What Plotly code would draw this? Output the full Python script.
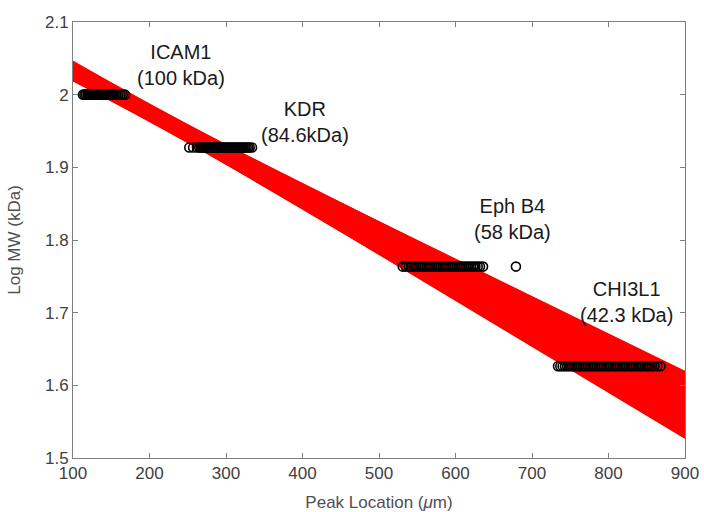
import numpy as np
import plotly.graph_objects as go

# Fitted calibration lines (value of Log MW at x=100 and x=900)
fit_y_at_100 = [2.0444, 2.0410, 2.0364, 2.0311, 2.0260, 2.0219, 2.0194, 2.0189,
                2.0204, 2.0238, 2.0284, 2.0337, 2.0388, 2.0429, 2.0454, 2.0459]
fit_y_at_900 = [1.5852, 1.6015, 1.6134, 1.6192, 1.6180, 1.6100, 1.5964, 1.5793,
                1.5612, 1.5449, 1.5330, 1.5272, 1.5284, 1.5364, 1.5500, 1.5671]
fit_x_ends = [100, 900]

# Peak locations (um) for each marker protein
icam1_x = [113, 115, 117, 119, 120, 121, 122, 123, 124, 125, 126, 127, 128, 129, 130,
           131, 132, 133, 134, 135, 136, 137, 138, 139, 140, 141, 142, 144, 146, 148,
           150, 153, 156, 159, 162, 165, 168]
kdr_x = [252, 257, 262, 265, 267, 269, 271, 273, 275, 277, 279, 281, 283, 285, 287,
         289, 291, 293, 295, 297, 299, 301, 303, 305, 307, 309, 311, 313, 315, 317,
         319, 321, 323, 325, 327, 329, 331, 334]
ephb4_x = [531, 535, 539, 542, 545, 548, 551, 554, 557, 560, 563, 566, 569, 572, 575,
           578, 581, 584, 587, 590, 593, 596, 599, 602, 605, 608, 611, 614, 617, 620,
           623, 626, 629, 632, 636, 679]
chi3l1_x = [734, 737, 740, 743, 746, 749, 752, 755, 758, 761, 764, 767, 770, 773, 776,
            779, 782, 785, 788, 791, 794, 797, 800, 803, 806, 809, 812, 815, 818, 821,
            824, 827, 830, 833, 836, 839, 842, 845, 848, 851, 854, 857, 860, 864, 868]
mw_kda = {"ICAM1": 100, "KDR": 84.6, "Eph B4": 58, "CHI3L1": 42.3}

labels = ["ICAM1<br>(100 kDa)", "KDR<br>(84.6kDa)", "Eph B4<br>(58 kDa)", "CHI3L1<br>(42.3 kDa)"]
label_x = [241, 403, 674, 823]
label_y = [2.041, 1.962, 1.829, 1.715]

FONT = "Liberation Sans, Arial"
fig = go.Figure()

# Band envelope from the fitted lines
xs = np.linspace(fit_x_ends[0], fit_x_ends[1], 81)
ys = np.array([a + (b - a) * (xs - fit_x_ends[0]) / (fit_x_ends[1] - fit_x_ends[0])
               for a, b in zip(fit_y_at_100, fit_y_at_900)])
upper = ys.max(axis=0)
lower = ys.min(axis=0)
fig.add_trace(go.Scatter(x=np.concatenate([xs, xs[::-1]]),
                         y=np.concatenate([upper, lower[::-1]]),
                         fill="toself", fillcolor="#ff0000", line=dict(width=0),
                         mode="lines", hoverinfo="skip", showlegend=False))
for i, (a, b) in enumerate(zip(fit_y_at_100, fit_y_at_900)):
    fig.add_trace(go.Scatter(x=fit_x_ends, y=[a, b], mode="lines",
                             line=dict(color="#ff0000", width=1.2),
                             showlegend=False, hoverinfo="skip"))

for name, xv in zip(mw_kda.keys(), [icam1_x, kdr_x, ephb4_x, chi3l1_x]):
    yv = [np.log10(mw_kda[name])] * len(xv)
    fig.add_trace(go.Scatter(x=xv, y=yv, mode="markers",
                             marker=dict(symbol="circle-open", size=9, color="black",
                                         line=dict(width=1.6, color="black")),
                             showlegend=False, name=name))

for t, x, y in zip(labels, label_x, label_y):
    fig.add_annotation(x=x, y=y, text=t, showarrow=False, xref="x", yref="y",
                       font=dict(size=20, color="#1a1a1a", family=FONT),
                       align="center")

axis_common = dict(showline=True, linecolor="#7f7f7f", linewidth=1, mirror="ticks",
                   ticks="inside", ticklen=5, tickcolor="#7f7f7f", showgrid=False,
                   zeroline=False, automargin=False,
                   tickfont=dict(size=17, color="#404040", family=FONT))
fig.update_layout(
    width=704, height=512,
    margin=dict(l=73, r=19, t=22, b=54),
    paper_bgcolor="white", plot_bgcolor="white",
    xaxis=dict(range=[100, 900], dtick=100, tick0=100,
               title=dict(text="Peak Location (<i>μ</i>m)", standoff=13,
                          font=dict(size=17, color="#505050", family=FONT)),
               **axis_common),
    yaxis=dict(range=[1.5, 2.1], dtick=0.1, tick0=1.5,
               title=dict(text="Log MW (kDa)", standoff=20,
                          font=dict(size=17, color="#505050", family=FONT)),
               **axis_common),
)

fig.write_html("out.html")
